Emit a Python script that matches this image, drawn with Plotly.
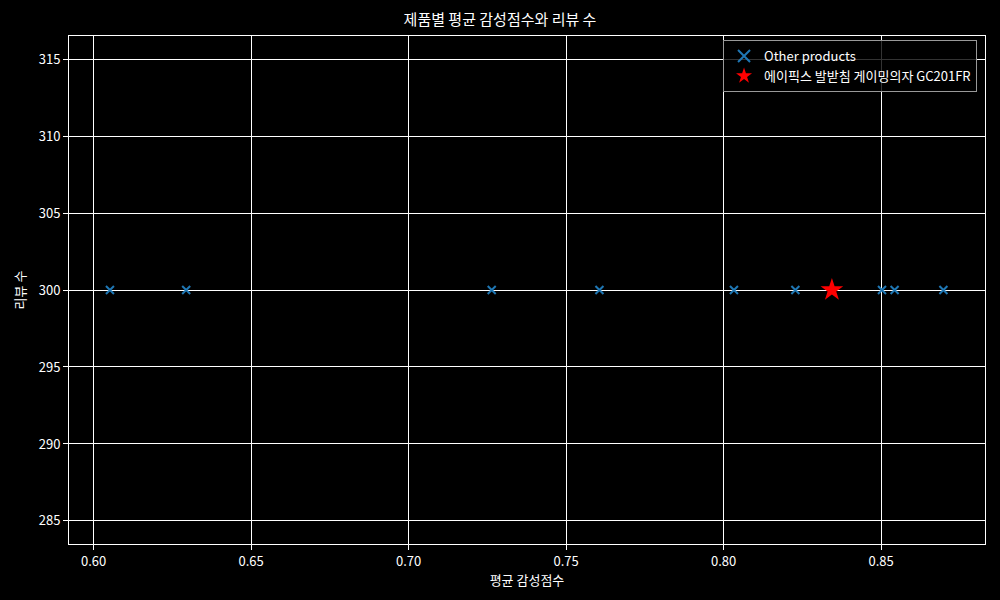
import plotly.graph_objects as go

other_scores = [0.6052, 0.6294, 0.7264, 0.7606, 0.8033, 0.8228, 0.8503, 0.8543, 0.8698]
other_counts = [300, 300, 300, 300, 300, 300, 300, 300, 300]
target_name = "에이픽스 발받침 게이밍의자 GC201FR"
target_score = [0.8344]
target_count = [300]

FONT = "Noto Sans CJK KR, Noto Sans, DejaVu Sans"

fig = go.Figure()
fig.add_trace(go.Scatter(
    x=other_scores, y=other_counts, mode="markers", name="Other products",
    marker=dict(symbol="x-thin", size=8, color="#1f77b4",
                line=dict(color="#1f77b4", width=2)),
))
fig.add_trace(go.Scatter(
    x=target_score, y=target_count, mode="markers", name=target_name,
    marker=dict(symbol="star", size=17, color="red", line=dict(width=0)),
))

axis_common = dict(
    showgrid=True, gridcolor="white", gridwidth=0.8,
    showline=True, linecolor="white", linewidth=1, mirror=True,
    ticks="outside", ticklen=5, tickcolor="white", tickwidth=1,
    zeroline=False, tickfont=dict(color="white", size=13, family=FONT),
)

fig.update_layout(
    width=1000, height=600,
    paper_bgcolor="black", plot_bgcolor="black",
    margin=dict(l=69, r=15, t=36, b=56),
    font=dict(family=FONT, color="white", size=13),
    title=dict(text="제품별 평균 감성점수와 리뷰 수", x=0.5, xanchor="center",
               y=1 - 20 / 600, yanchor="middle",
               font=dict(size=15, color="white", family=FONT)),
    xaxis=dict(range=[0.5922, 0.8830], tickvals=[0.60, 0.65, 0.70, 0.75, 0.80, 0.85],
               ticktext=["0.60", "0.65", "0.70", "0.75", "0.80", "0.85"],
               title=dict(text="평균 감성점수", standoff=5, font=dict(size=13, color="white")),
               **axis_common),
    yaxis=dict(range=[283.5, 316.5], tickvals=[285, 290, 295, 300, 305, 310, 315],
               title=dict(text="리뷰 수", standoff=10, font=dict(size=13, color="white")),
               **axis_common),
    legend=dict(x=0.9913, y=0.992, xanchor="right", yanchor="top",
                bgcolor="rgba(0,0,0,0.8)", bordercolor="#999999", borderwidth=1,
                font=dict(size=13, color="white", family=FONT),
                itemsizing="constant", tracegroupgap=0),
    showlegend=True,
)

fig.write_html("out.html", config={"displayModeBar": False},
               post_script="document.body.style.margin='0';document.body.style.background='black';")
